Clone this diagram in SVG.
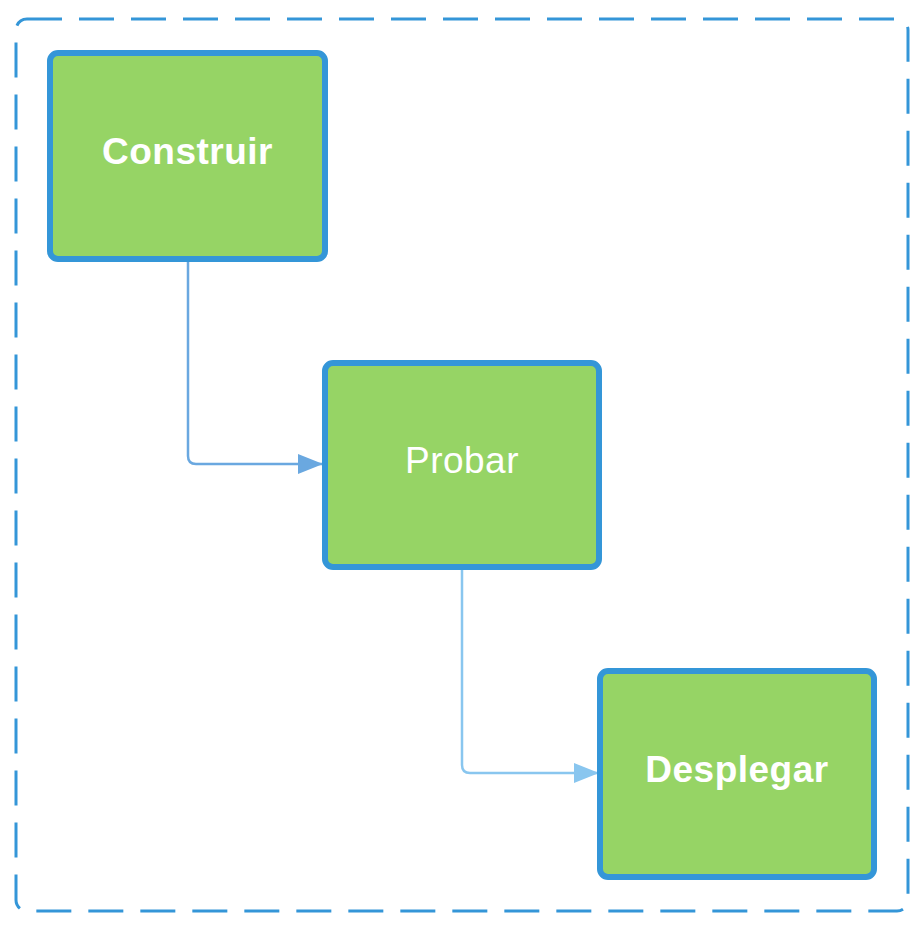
<svg xmlns="http://www.w3.org/2000/svg" width="921" height="930" viewBox="0 0 921 930">
<style>
.box{fill:#96d465;stroke:#3496d8;stroke-width:6}
.lbl{fill:#ffffff;font-family:"Liberation Sans",Arial,sans-serif;font-size:37px;letter-spacing:0.5px;text-anchor:middle}
.b{font-weight:bold}
.conn{fill:none;stroke-width:2.5}
</style>
<defs>
<marker id="a1" markerUnits="userSpaceOnUse" markerWidth="26" markerHeight="22" refX="25" refY="10" orient="auto">
<path d="M0,0 L25,10 L0,20 Z" fill="#6aa8e0"/>
</marker>
<marker id="a2" markerUnits="userSpaceOnUse" markerWidth="26" markerHeight="22" refX="25" refY="10" orient="auto">
<path d="M0,0 L25,10 L0,20 Z" fill="#89c6ef"/>
</marker>
</defs>
<rect id="container" x="16" y="19" width="892" height="892" rx="11" fill="none" stroke="#3496d8" stroke-width="3" stroke-dasharray="35 17"/>
<g id="connectors">
<path class="conn" stroke="#6aa8e0" d="M188,262 V456 Q188,464 196,464 H323" marker-end="url(#a1)"/>
<path class="conn" stroke="#89c6ef" d="M462,570 V765 Q462,773 470,773 H599" marker-end="url(#a2)"/>
</g>
<g id="construir">
<rect class="box" x="50" y="53" width="275" height="206" rx="8"/>
<text class="lbl b" x="187.5" y="164">Construir</text>
</g>
<g id="probar">
<rect class="box" x="325" y="363" width="274" height="204" rx="8"/>
<text class="lbl" x="462" y="473">Probar</text>
</g>
<g id="desplegar">
<rect class="box" x="600" y="671" width="274" height="206" rx="8"/>
<text class="lbl b" x="737" y="782">Desplegar</text>
</g>
</svg>
